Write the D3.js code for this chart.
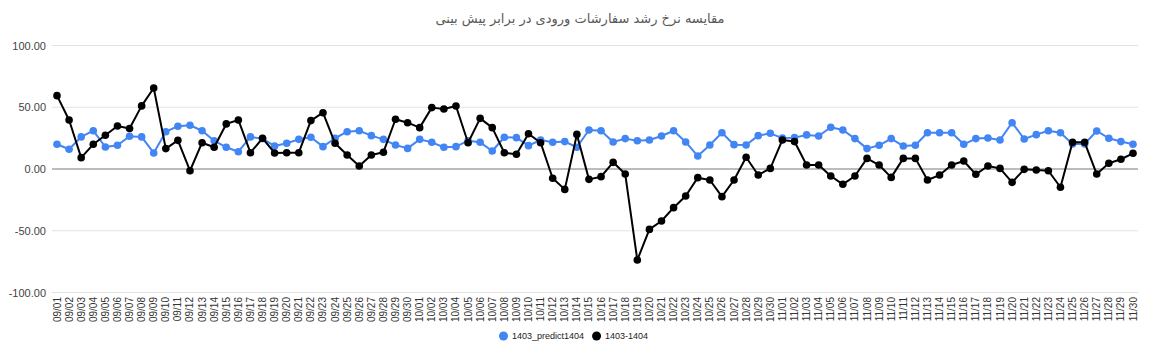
<!DOCTYPE html>
<html>
<head>
<meta charset="utf-8">
<script src="https://cdn.jsdelivr.net/npm/d3@7"></script>
<style>
  body { margin: 0; background: #fff; }
  svg { font-family: "Liberation Sans", Arial, "DejaVu Sans", sans-serif; }
</style>
</head>
<body>
<div id="chart"></div>
<script>
// chart data
const title = 'مقایسه نرخ رشد سفارشات ورودی در برابر پیش بینی'
const seriesNames = ['1403_predict1404', '1403-1404']

// dates: months 09, 10, 11 with 30 days each
const months = ['09', '10', '11']
const days = d3.range(1, 31).map(d => String(d).padStart(2, '0'))
const dates = months.flatMap(m => days.map(d => m + '/' + d))

const predict = [
  20, 16, 26, 31, 17.8, 19.2, 26.5, 26, 13, 30.2,
  34.6, 35.4, 31, 22.9, 17.6, 14, 26, 24.6, 18.6, 20.8,
  24, 25.7, 18.1, 24.9, 30.2, 31, 27, 24, 19.4, 16.7,
  24, 21.6, 17.6, 18.1, 22.9, 21.6, 14.6, 25.7, 25.4, 18.9,
  23.5, 21.6, 22.2, 17.6, 31.6, 31, 21.9, 24.6, 22.9, 23.5,
  26.7, 31, 21.9, 10.5, 19.4, 29.4, 19.7, 19.4, 27, 28.9,
  25, 25.4, 27.6, 26.7, 33.8, 31.6, 24.6, 16.5, 19.2, 24.6,
  18.6, 19.2, 29.4, 29.4, 29.4, 20, 24.6, 25.1, 23.5, 37.5,
  24.3, 27.8, 31, 29.4, 20.3, 20.3, 30.8, 24.9, 22.2, 20
]

const actual = [
  59.4, 39.7, 9.2, 20, 27.3, 34.8, 32.8, 51.1, 65.6, 16.5,
  23.2, -1.4, 21.3, 17.6, 36.5, 39.7, 13.2, 24.9, 13, 13.2,
  13.2, 39.2, 45.6, 20.8, 11.3, 2.4, 11.3, 13.6, 40.3, 37.5,
  33.5, 49.7, 48.6, 51, 21.3, 41, 33.5, 13.2, 11.9, 28.6,
  21.3, -7.5, -16.5, 28, -8.4, -6.2, 5.4, -4.1, -73.7, -48.9,
  -42.1, -31.3, -21.9, -7, -8.9, -22.4, -8.9, 9.5, -4.9, 0.5,
  23.5, 22.2, 3.2, 3.2, -5.7, -12.4, -5.7, 8.6, 3.2, -6.8,
  8.6, 8.6, -8.9, -4.9, 3.2, 6.5, -4.3, 2.4, 0.5, -10.8,
  -0.3, -0.8, -1.4, -14.8, 21.6, 21.6, -4.1, 4.6, 7.9, 12.7
]

const yTicks = [-100, -50, 0, 50, 100]
const colors = ['#4285f4', '#000000']

const width = 1157,
  height = 354

const svg = d3.select('#chart')
  .append('svg')
  .attr('width', width)
  .attr('height', height)

const x = d3.scalePoint()
  .domain(dates)
  .range([57, 1133])

const y = d3.scaleLinear()
  .domain([-100, 100])
  .range([292.5, 45.5])

// title
svg.append('text')
  .attr('x', 580)
  .attr('y', 23)
  .attr('text-anchor', 'middle')
  .attr('direction', 'rtl')
  .style('font-size', '13px')
  .style('fill', '#595959')
  .style('font-family', '"DejaVu Sans", sans-serif')
  .text(title)

// grid lines
svg.append('g')
  .selectAll('line')
  .data(yTicks)
  .enter()
  .append('line')
  .attr('x1', 52)
  .attr('x2', 1138)
  .attr('y1', d => y(d))
  .attr('y2', d => y(d))
  .attr('stroke', d => d === 0 ? '#a6a6a6' : '#e3e3e3')
  .attr('stroke-width', d => d === 0 ? 1.5 : 1)

// y axis labels
svg.append('g')
  .selectAll('text')
  .data(yTicks)
  .enter()
  .append('text')
  .attr('x', 46)
  .attr('y', d => y(d) + 4)
  .attr('text-anchor', 'end')
  .style('font-size', '11px')
  .style('fill', '#444')
  .text(d => d.toFixed(2))

// x axis labels, rotated
svg.append('g')
  .selectAll('text')
  .data(dates)
  .enter()
  .append('text')
  .attr('transform', d => 'translate(' + (x(d) + 3.5) + ',297) rotate(-90)')
  .attr('text-anchor', 'end')
  .style('font-size', '10px')
  .style('fill', '#333')
  .text(d => d)

// lines and points
const series = [predict, actual]
series.forEach((vals, k) => {
  const line = d3.line()
    .x((d, i) => x(dates[i]))
    .y(d => y(d))

  svg.append('path')
    .datum(vals)
    .attr('fill', 'none')
    .attr('stroke', colors[k])
    .attr('stroke-width', 2)
    .attr('stroke-linejoin', 'round')
    .attr('d', line)

  svg.append('g')
    .selectAll('circle')
    .data(vals)
    .enter()
    .append('circle')
    .attr('cx', (d, i) => x(dates[i]))
    .attr('cy', d => y(d))
    .attr('r', 3.8)
    .attr('fill', colors[k])
})

// legend, items placed one after another
const legend = svg.append('g')
  .attr('transform', 'translate(499,336)')
let lx = 0
seriesNames.forEach((name, i) => {
  const item = legend.append('g')
    .attr('transform', 'translate(' + lx + ',0)')
  item.append('circle')
    .attr('cx', 4.5)
    .attr('r', 4.5)
    .attr('fill', colors[i])
  const t = item.append('text')
    .attr('x', 13)
    .attr('y', 3.2)
    .style('font-size', '9px')
    .style('fill', '#222')
    .text(name)
  lx += 13 + t.node().getComputedTextLength() + 8
})
</script>
</body>
</html>
